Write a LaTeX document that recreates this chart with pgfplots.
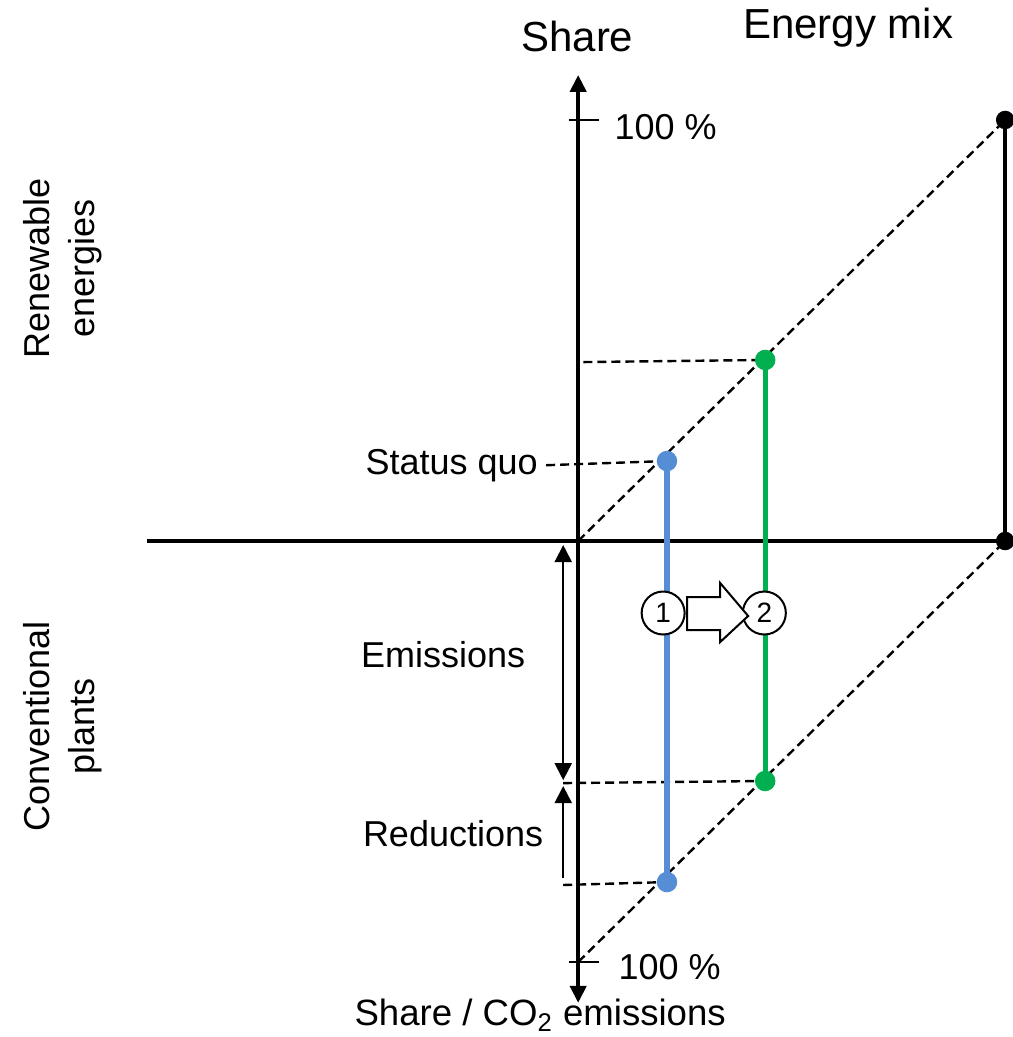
\documentclass[border=0pt]{standalone}
\usepackage{fontspec}
\setmainfont{Liberation Sans}
\usepackage{pgfplots}
\pgfplotsset{compat=1.18}
\usetikzlibrary{arrows.meta}
\definecolor{bluel}{RGB}{85,142,213}
\definecolor{greenl}{RGB}{0,176,80}
\begin{document}
\fontsize{18}{21.6}\selectfont
\begin{tikzpicture}[every node/.append style={inner sep=0pt}]
\begin{axis}[scale only axis, width=506pt, height=518.5pt,
  xmin=-1.354, xmax=1.016, ymin=-1.178, ymax=1.285,
  hide axis, clip=false, set layers=standard]
\path (rel axis cs:0,0) rectangle (rel axis cs:1,1);
% main axes
\addplot[black, line width=2pt, no marks] coordinates {(-1.009,0) (1,0)};
\addplot[black, line width=2pt, no marks, {Triangle[length=8.5pt,width=8pt]}-{Triangle[length=8.5pt,width=8pt]}] coordinates {(0,-1.097) (0,1.107)};
\addplot[black, line width=1.4pt, no marks] coordinates {(-0.021,1) (0.049,1)};
\addplot[black, line width=1.4pt, no marks] coordinates {(-0.021,-1) (0.049,-1)};
% diagonals
\addplot[black, line width=1.2pt, dash pattern=on 4.5pt off 2.5pt, no marks] coordinates {(0,0) (1,1)};
\addplot[black, line width=1.2pt, dash pattern=on 4.5pt off 2.5pt, no marks] coordinates {(0,-1) (1,0)};
% horizontal guides
\addplot[black, line width=1.2pt, dash pattern=on 4.5pt off 2.5pt, no marks] coordinates {(0.012,0.425) (0.438,0.43)};
\addplot[black, line width=1.2pt, dash pattern=on 4.5pt off 2.5pt, no marks] coordinates {(-0.075,0.18) (0.208,0.19)};
\addplot[black, line width=1.2pt, dash pattern=on 4.5pt off 2.5pt, no marks] coordinates {(-0.035,-0.575) (0.438,-0.57)};
\addplot[black, line width=1.2pt, dash pattern=on 4.5pt off 2.5pt, no marks] coordinates {(-0.035,-0.817) (0.208,-0.81)};
% energy mix
\addplot[black, line width=2pt, mark=*, mark size=3.6pt] coordinates {(1,0) (1,1)};
\addplot[bluel, line width=2.6pt, mark=*, mark size=3.8pt] coordinates {(0.208,0.19) (0.208,-0.81)};
\addplot[greenl, line width=2.6pt, mark=*, mark size=3.8pt] coordinates {(0.438,0.43) (0.438,-0.57)};
% emissions / reductions arrows
\addplot[black, line width=1pt, no marks, {Triangle[length=8.5pt,width=8.5pt]}-{Triangle[length=8.5pt,width=8.5pt]}] coordinates {(-0.035,-0.0095) (-0.035,-0.568)};
\addplot[black, line width=1pt, no marks, -{Triangle[length=8.5pt,width=8.5pt]}] coordinates {(-0.035,-0.800) (-0.035,-0.582)};
% circles and block arrow
\addplot[only marks, mark=*, mark size=10.75pt, mark options={fill=white, draw=black, line width=1pt}] coordinates {(0.199,-0.171) (0.436,-0.171)};
\addplot[on layer=axis foreground, black, fill=white, line width=1pt, no marks] coordinates {(0.2553,-0.1330) (0.3326,-0.1330) (0.3326,-0.0998) (0.3981,-0.1781) (0.3326,-0.2399) (0.3326,-0.2114) (0.2553,-0.2114)} -- cycle;
\coordinate (c1) at (axis cs:0.199,-0.171);
\coordinate (c2) at (axis cs:0.436,-0.171);
% texts
\node[font=\fontsize{21}{25}\selectfont] at (axis cs:-0.002,1.199) {Share};
\node[font=\fontsize{21}{25}\selectfont] at (axis cs:0.632,1.2185) {Energy mix};
\node[anchor=west] at (axis cs:0.0843,0.983) {100 \%};
\node[anchor=west] at (axis cs:0.0937,-1.012) {100 \%};
\node[font=\fontsize{18.3}{22}\selectfont] at (axis cs:-0.089,-1.126) {Share / CO\textsubscript{2} emissions};
\node[anchor=east] at (axis cs:-0.0937,0.178) {Status quo};
\node at (axis cs:-0.316,-0.271) {Emissions};
\node at (axis cs:-0.293,-0.694) {Reductions};
\node[rotate=90, align=center, font=\fontsize{18}{22.5}\selectfont] at (axis cs:-1.208,0.648) {Renewable\\energies};
\node[rotate=90, align=center, font=\fontsize{18}{22.5}\selectfont] at (axis cs:-1.208,-0.440) {Conventional\\plants};
\end{axis}
\node[font=\fontsize{14}{14}\selectfont] at (c1) {1};
\node[font=\fontsize{14}{14}\selectfont] at (c2) {2};
\end{tikzpicture}
\end{document}
